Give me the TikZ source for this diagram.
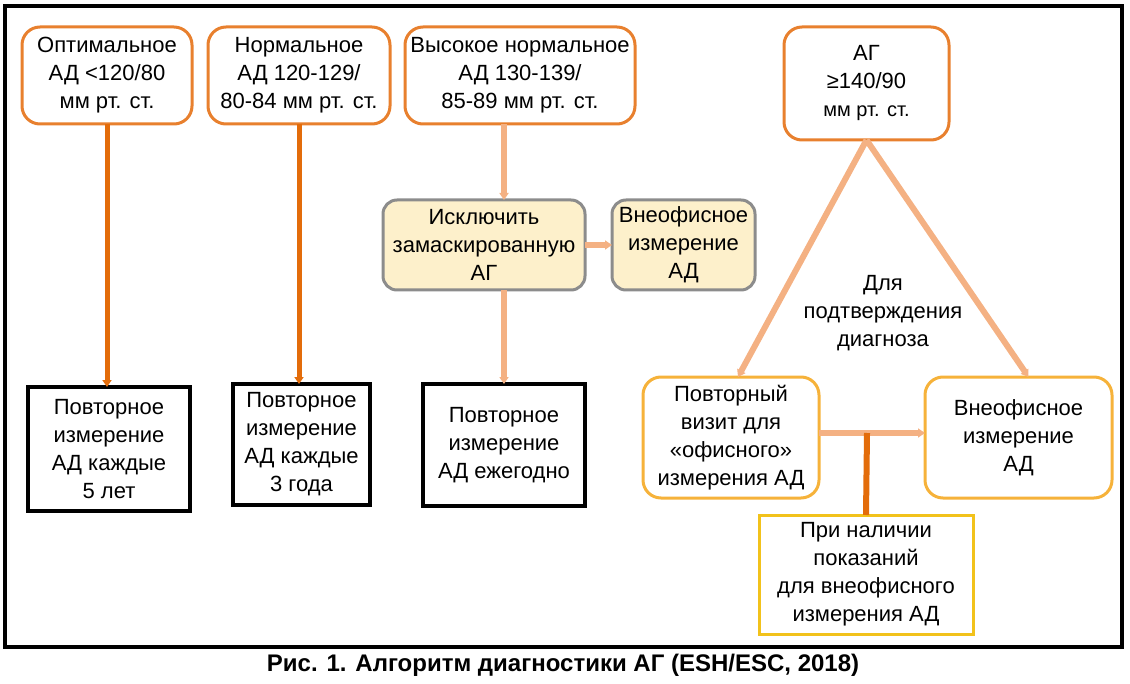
\documentclass[tikz,border=0pt]{standalone}
\usepackage{fontspec}
\setmainfont{Liberation Sans}
\usetikzlibrary{arrows.meta}

\definecolor{orgD}{HTML}{E36C0A}
\definecolor{orgB}{HTML}{E8802E}
\definecolor{orgL}{HTML}{F4B183}
\definecolor{greyB}{HTML}{8C8C8C}
\definecolor{cream}{HTML}{FDF0CB}
\definecolor{yelO}{HTML}{F6B23A}
\definecolor{gold}{HTML}{F2C21B}

\begin{document}
\begin{tikzpicture}[x=0.5pt,y=-0.5pt,
	every node/.style={align=center, inner sep=1pt, outer sep=0pt, font=\fontsize{11}{14}\selectfont},
	sz/.style 2 args={minimum width=#1*0.5pt, minimum height=#2*0.5pt},
	topbox/.style={draw=orgB, line width=1.5pt, rounded corners=9pt, fill=white},
	maskbox/.style={draw=greyB, line width=1.5pt, rounded corners=7pt, fill=cream},
	repbox/.style={draw=black, line width=2pt, fill=white},
	confbox/.style={draw=yelO, line width=1.5pt, rounded corners=9pt, fill=white},
	indbox/.style={draw=gold, line width=1.5pt, fill=white},
	darkline/.style={orgD, line width=2.5pt},
	liteline/.style={orgL, line width=2.8pt},
	arrowed/.style={-{Triangle[length=3.5pt,width=4.5pt]}}]
	\useasboundingbox (0,0) rectangle (1130,684);
	\draw[line width=1.6pt] (5,6) rectangle (1122,647);

	% pressure classes
	\node[topbox, sz={170}{97}] (opt) at (107,75.5) {Оптимальное\\АД <120/80\\мм рт. ст.};
	\node[topbox, sz={182}{97}] (norm) at (299,75.5) {Нормальное\\АД 120-129/\\80-84 мм рт. ст.};
	\node[topbox, sz={230}{97}] (high) at (520,75.5) {Высокое нормальное\\АД 130-139/\\85-89 мм рт. ст.};
	\node[topbox, sz={165}{113}] (ag) at (866.5,83.5) {АГ\\≥140/90\\{\fontsize{10}{14}\selectfont мм рт. ст.}};

	\node[maskbox, sz={202}{90}] (excl) at (484,245) {Исключить\\замаскированную\\АГ};
	\node[maskbox, sz={143}{90}] (outA) at (683.5,245) {Внеофисное\\измерение\\АД};

	% follow-up
	\node[repbox, sz={162}{124}] (rep5) at (109,449) {Повторное\\измерение\\АД каждые\\5 лет};
	\node[repbox, sz={137}{121}] (rep3) at (301.5,444.5) {Повторное\\измерение\\АД каждые\\3 года};
	\node[repbox, sz={162}{122}] (rep1) at (504,445) {Повторное\\измерение\\АД ежегодно};

	\node[confbox, sz={176}{121}] (visit) at (731,437.5) {Повторный\\визит для\\«офисного»\\измерения АД};
	\node[confbox, sz={187}{121}] (outB) at (1018.5,437.5) {Внеофисное\\измерение\\АД};
	\node[indbox, sz={214}{119}] (ind) at (866,574.5) {При наличии\\показаний\\для внеофисного\\измерения АД};
	\node (why) at (883,313) {Для\\подтверждения\\диагноза};

	\node[font=\bfseries\fontsize{12}{14}\selectfont] (cap) at (563,665) {Рис. 1. Алгоритм диагностики АГ (ESH/ESC, 2018)};

	% connectors
	\draw[darkline, arrowed] (opt.south) -- (opt.south |- rep5.north);
	\draw[darkline, arrowed] (norm.south) -- (norm.south |- rep3.north);
	\draw[liteline, arrowed] (rep1.north |- high.south) -- (rep1.north |- excl.north);
	\draw[liteline, arrowed] (excl.east) -- (outA.west);
	\draw[liteline, arrowed] (rep1.north |- excl.south) -- (rep1.north);

	\draw[liteline, line width=3pt, arrowed] (ag.south) -- ([xshift=3.5pt]visit.north);
	\draw[liteline, line width=3pt, arrowed] (ag.south) -- ([xshift=5pt]outB.north);
	\coordinate (fork) at (867,433);
	\draw[liteline, arrowed] (visit.east |- fork) -- (outB.west |- fork);
	\draw[darkline, line width=3pt] (fork) -- (ind.north);
\end{tikzpicture}
\end{document}
